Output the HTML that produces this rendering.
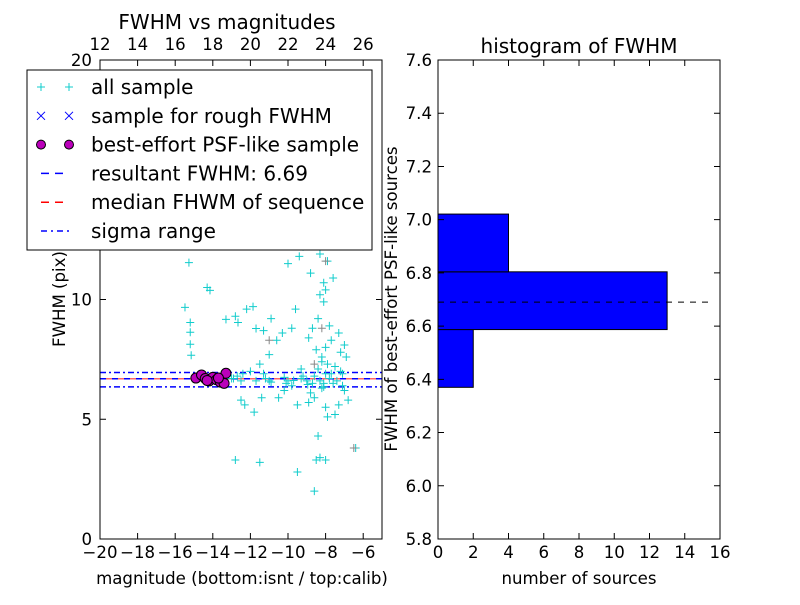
<!DOCTYPE html>
<html><head><meta charset="utf-8"><style>
body{margin:0;background:#fff}
svg text{font-family:"DejaVu Sans","Liberation Sans",sans-serif}
</style></head><body>
<svg id="c" width="800" height="600" xmlns="http://www.w3.org/2000/svg"></svg>
<script>
// ---- data ----
const bottomTicks=[-20,-18,-16,-14,-12,-10,-8,-6];
const topTicks=[12,14,16,18,20,22,24,26];
const leftYTicks=[0,5,10,20];
const allMag=[-15.27,-15.48,-15.2,-15.2,-15.2,-15.15,-14.3,-14.15,-11.86,-13.3,-12.66,-11.7,-12.8,-12.2,-11.3,-10.9,-10.0,-9.4,-9.2,-8.6,-8.3,-7.9,-8.8,-8.1,-8.0,-7.6,-7.8,-8.4,-8.9,-7.3,-7.0,-6.9,-7.2,-7.5,-8.2,-8.5,-8.7,-9.6,-9.8,-10.3,-10.6,-11.0,-11.5,-12.0,-12.4,-12.9,-13.5,-14.0,-14.6,-10.2,-9.0,-8.1,-7.7,-7.4,-8.6,-9.3,-11.7,-11.3,-13.0,-12.7,-12.5,-11.2,-10.0,-9.2,-8.7,-8.3,-7.8,-7.1,-7.0,-6.8,-8.9,-8.0,-7.5,-12.5,-12.3,-11.8,-11.4,-10.2,-9.5,-8.6,-8.2,-8.4,-7.9,-9.5,-12.8,-11.5,-6.4,-8.5,-8.3,-8.0,-8.6,-7.3,-10.5,-8.8,-7.6,-7.1,-7.2,-9.3,-10.1,-9.8,-11.0,-13.2,-10.9,-8.95,-8.1,-9.7,-8.2,-8.0,-7.9,-8.1,-8.3,-7.7,-8.0,-8.4];
const allFwhm=[11.54,9.67,9.04,8.63,8.13,7.67,10.5,10.38,9.7,9.17,9.04,8.79,9.3,9.6,8.7,9.2,11.5,11.8,12.2,12.4,11.9,11.6,11.1,10.7,10.4,10.9,8.9,9.2,8.4,8.6,8.1,7.6,7.8,7.2,7.4,7.9,8.8,9.6,8.8,8.6,8.3,7.7,7.3,7.0,6.9,6.7,6.6,6.7,6.8,6.75,6.6,6.5,6.9,6.6,6.8,6.7,6.6,6.9,6.7,6.8,6.6,6.7,6.6,6.8,6.5,6.6,6.7,6.4,6.2,5.8,5.7,5.5,5.2,5.8,5.6,5.3,5.9,6.2,5.6,5.9,6.3,4.3,5.1,2.8,3.3,3.2,3.8,3.3,3.4,3.3,2.0,5.6,5.9,6.1,6.5,6.9,7.0,7.1,6.5,6.4,6.6,6.8,6.55,6.45,6.35,6.62,7.6,8.0,7.3,9.9,10.2,8.3,6.9,7.1];
const grayMag=[-11.0,-8.2,-8.6,-6.5,-8.0];
const grayFwhm=[8.3,8.8,7.3,3.8,11.6];
const psfMag=[-14.9,-14.6,-14.4,-14.2,-14.0,-13.8,-13.6,-13.4,-13.3,-14.3,-13.7];
const psfFwhm=[6.72,6.85,6.7,6.6,6.75,6.65,6.55,6.5,6.92,6.62,6.72];
const resultFwhm=6.69, medianFwhm=6.69, sigmaLow=6.35, sigmaHigh=6.95;
const histEdges=[6.37,6.587,6.804,7.021];
const histCounts=[2,13,4];
const histXTicks=[0,2,4,6,8,10,12,14,16];
const histYTicks=[5.8,6.0,6.2,6.4,6.6,6.8,7.0,7.2,7.4,7.6];

const svg=document.getElementById('c');const NS='http://www.w3.org/2000/svg';
function el(t,a,p){const e=document.createElementNS(NS,t);for(const k in a)e.setAttribute(k,a[k]);(p||svg).appendChild(e);return e;}
function tx(s,x,y,a){const e=el('text',Object.assign({x:x,y:y,'font-size':16.6,fill:'#000'},a||{}));e.textContent=s;return e;}
const L={x0:100,x1:382,y0:60,y1:539};
const mx=v=>L.x0+(v+20)/15*(L.x1-L.x0);
const tmx=v=>L.x0+(v-12)/15*(L.x1-L.x0);
const fy=v=>L.y1-v/20*(L.y1-L.y0);
const g1=el('g',{});

el('rect',{x:L.x0,y:L.y0,width:L.x1-L.x0,height:L.y1-L.y0,fill:'#fff'},g1);
function hl(v,col,dash,name){const l=el('line',{x1:L.x0,x2:L.x1,y1:fy(v),y2:fy(v),stroke:col,'stroke-width':1.5,'stroke-dasharray':dash},g1);}
hl(sigmaHigh,'#00f','6,3,2,3','sigma-high-line');hl(sigmaLow,'#00f','6,3,2,3','sigma-low-line');
hl(resultFwhm,'#00f','6,6','resultant-fwhm-line');
const ml=el('line',{x1:L.x0+6,x2:L.x1,y1:fy(medianFwhm),y2:fy(medianFwhm),stroke:'#f00','stroke-width':1.5,'stroke-dasharray':'6,6','stroke-opacity':0.6},g1);

function plus(x,y,c,name){const p=el('path',{d:`M${x-4},${y}h8M${x},${y-4}v8`,stroke:c,'stroke-width':1},g1);}
allMag.forEach((m,i)=>plus(mx(m),fy(allFwhm[i]),'#1cc','all-sample-point'));
grayMag.forEach((m,i)=>plus(mx(m),fy(grayFwhm[i]),'#888','rough-sample-point'));
psfMag.forEach((m,i)=>{const c=el('circle',{cx:mx(m),cy:fy(psfFwhm[i]),r:5,fill:'#b0b',stroke:'#000','stroke-width':1},g1);});
el('rect',{x:L.x0,y:L.y0,width:L.x1-L.x0,height:L.y1-L.y0,fill:'none',stroke:'#000'},g1);
bottomTicks.forEach(v=>{const x=mx(v);el('path',{d:`M${x},${L.y1}v-6`,stroke:'#000'});tx((v<0?'\u2212':'')+Math.abs(v),x,558,{'text-anchor':'middle'});});
topTicks.forEach(v=>{const x=tmx(v);el('path',{d:`M${x},${L.y0}v6`,stroke:'#000'});tx(v,x,50,{'text-anchor':'middle'});});
leftYTicks.forEach(v=>{const y=fy(v);el('path',{d:`M${L.x0},${y}h6M${L.x1},${y}h-6`,stroke:'#000'});tx(v,92,y+6,{'text-anchor':'end'});});
tx('FWHM vs magnitudes',227,29,{'text-anchor':'middle','font-size':20});
tx('magnitude (bottom:isnt / top:calib)',242,584,{'text-anchor':'middle'});
tx('FWHM (pix)',0,0,{'text-anchor':'middle',transform:'translate(65,299) rotate(-90)'});
const lg=el('g',{});
el('rect',{x:27,y:70,width:345,height:180,fill:'#fff',stroke:'#000'},lg);
const labels=['all sample','sample for rough FWHM','best-effort PSF-like sample','resultant FWHM: 6.69','median FHWM of sequence','sigma range'];
labels.forEach((s,i)=>{const y=87+i*28.8;
 if(i==0){[41,69].forEach(x=>el('path',{d:`M${x-4},${y}h8M${x},${y-4}v8`,stroke:'#1cc'},lg));}
 if(i==1){[41,69].forEach(x=>el('path',{d:`M${x-4},${y-4}l8,8M${x-4},${y+4}l8,-8`,stroke:'#00f'},lg));}
 if(i==2){[41,69].forEach(x=>el('circle',{cx:x,cy:y,r:4.5,fill:'#b0b',stroke:'#000'},lg));}
 if(i==3)el('line',{x1:41,x2:69,y1:y,y2:y,stroke:'#00f','stroke-width':1.5,'stroke-dasharray':'8,6'},lg);
 if(i==4)el('line',{x1:41,x2:69,y1:y,y2:y,stroke:'#f00','stroke-width':1.5,'stroke-dasharray':'8,6'},lg);
 if(i==5)el('line',{x1:41,x2:69,y1:y,y2:y,stroke:'#00f','stroke-width':1.5,'stroke-dasharray':'6,4,2,4'},lg);
 const t=tx(s,91,y+7,{'font-size':20});lg.appendChild(t);});
const R={x0:438,x1:720,y0:60,y1:539};
const hx=v=>R.x0+v/16*(R.x1-R.x0);
const hy=v=>R.y1-(v-5.8)/1.8*(R.y1-R.y0);
const g2=el('g',{});
histCounts.forEach((c,i)=>{const b=el('rect',{x:hx(0),y:hy(histEdges[i+1]),width:hx(c)-hx(0),height:hy(histEdges[i])-hy(histEdges[i+1]),fill:'#00f',stroke:'#000'},g2);});
const rl=el('line',{x1:R.x0,x2:R.x1-6,y1:hy(resultFwhm),y2:hy(resultFwhm),stroke:'#000','stroke-dasharray':'6,6'},g2);

el('rect',{x:R.x0,y:R.y0,width:R.x1-R.x0,height:R.y1-R.y0,fill:'none',stroke:'#000'},g2);
histXTicks.forEach(v=>{const x=hx(v);el('path',{d:`M${x},${R.y1}v-6M${x},${R.y0}v6`,stroke:'#000'});tx(v,x,558,{'text-anchor':'middle'});});
histYTicks.forEach(v=>{const y=hy(v);el('path',{d:`M${R.x0},${y}h6M${R.x1},${y}h-6`,stroke:'#000'});tx(v.toFixed(1),432,y+6,{'text-anchor':'end'});});
tx('histogram of FWHM',579,53,{'text-anchor':'middle','font-size':20});
tx('number of sources',579,584,{'text-anchor':'middle'});
tx('FWHM of best-effort PSF-like sources',0,0,{'text-anchor':'middle',transform:'translate(397,299) rotate(-90)'});
</script>
</body></html>
